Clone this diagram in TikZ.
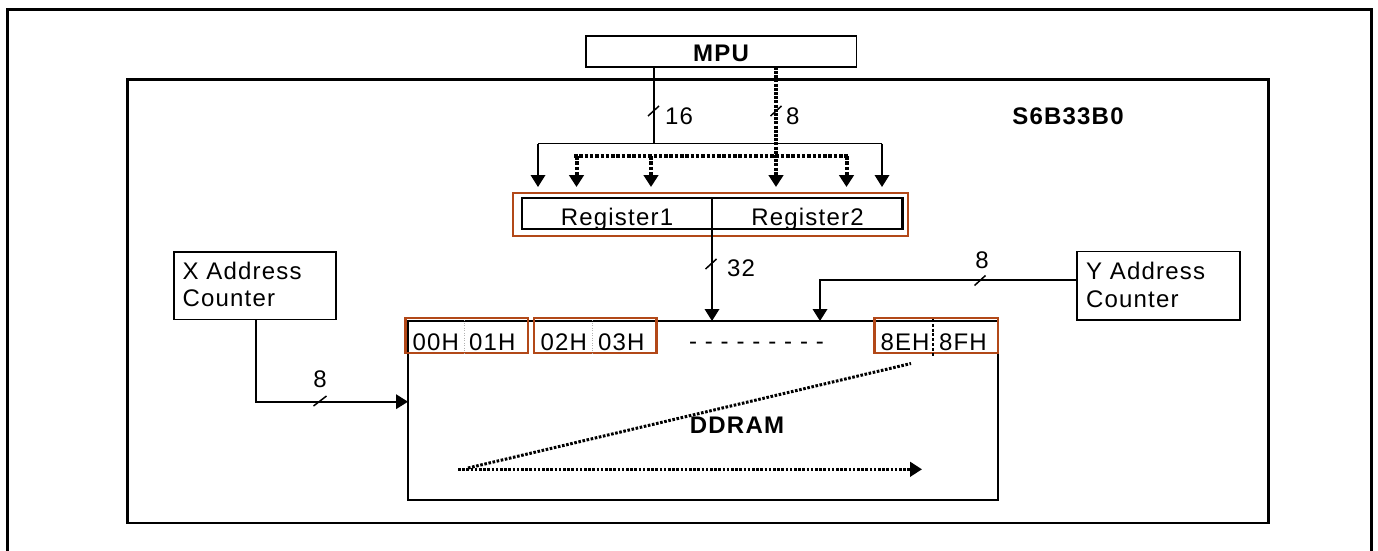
\documentclass[tikz,border=0pt]{standalone}
\usepackage{fontspec}
\setmainfont{Liberation Sans}[LetterSpace=5]
\usetikzlibrary{arrows.meta}
\definecolor{rust}{RGB}{178,72,24}
\begin{document}
\begin{tikzpicture}[x=1pt,y=-1pt,
  every node/.style={inner sep=0pt,outer sep=0pt,font=\fontsize{24}{28}\selectfont},
  box/.style={draw,line width=1.7pt},
  obox/.style={draw=rust,line width=2.2pt},
  conn/.style={line width=1.9pt},
  arr/.style={-{Triangle[length=12pt,width=14.5pt]}},
  tick/.style={line width=1.5pt},
  dotv/.style={line width=4.2pt,dash pattern=on 3pt off 1.2pt},
  doth/.style={line width=3.5pt,dash pattern=on 3.5pt off 1.8pt},
  dotd/.style={line width=3pt,dash pattern=on 2.6pt off 1.6pt},
  celldiv/.style={draw=gray!60,line width=0.7pt,dash pattern=on 1pt off 1.5pt},
  lbl/.style={anchor=base},
  lblw/.style={anchor=base west},
  bold/.style={font=\fontsize{24}{28}\selectfont\bfseries}
]
\useasboundingbox (0,0) rectangle (1378,550);
\clip (0,0) rectangle (1378,550);

% outer frame (open at the bottom)
\draw[line width=3pt] (7.5,560) -- (7.5,9.5) -- (1371.5,9.5) -- (1371.5,560);

% chip
\node[box,line width=2.2pt,minimum width=1141pt,minimum height=443.5pt] (chip) at (698,301.25) {};
\node[bold,lbl] (chiplbl) at (1068,124) {S6B33B0};

% MPU
\node[box,minimum width=270.5pt,minimum height=30.7pt] (mpu) at (721.25,51.35) {};
\node[bold,lbl] (mpulbl) at (721,61.7) {MPU};

% registers
\node[obox,minimum width=395pt,minimum height=43pt] (regfr) at (710.5,214.5) {};
\node[box,line width=2.2pt,minimum width=190pt,minimum height=31pt] (reg1) at (617,213.5) {};
\node[box,line width=2.2pt,minimum width=190.5pt,minimum height=31pt] (reg2) at (807.25,213.5) {};
\node[lbl] (reg1lbl) at (617,225.5) {Register1};
\node[lbl] (reg2lbl) at (807.5,225.5) {Register2};

% address counters
\node[box,minimum width=162pt,minimum height=67.5pt] (xac) at (255,285.75) {};
\node[lblw] (xacl1) at (182.5,279) {X Address};
\node[lblw] (xacl2) at (182.5,306.7) {Counter};
\node[box,minimum width=163pt,minimum height=68.5pt] (yac) at (1158.5,285.75) {};
\node[lblw] (yacl1) at (1086,279.5) {Y Address};
\node[lblw] (yacl2) at (1086,307) {Counter};

% DDRAM
\node[box,line width=2.2pt,minimum width=590pt,minimum height=179pt] (ddram) at (703,410.5) {};
\node[bold,lbl] (ddramlbl) at (737,433) {DDRAM};

% DDRAM cells
\node[obox,minimum width=122.5pt,minimum height=35pt] (c0) at (466.75,335.5) {};
\node[obox,minimum width=122.5pt,minimum height=35pt] (c1) at (595.25,335.5) {};
\node[obox,minimum width=123.5pt,minimum height=35pt] (c2) at (936.25,335.5) {};
\draw[celldiv] (464,320) -- (464,353);
\draw[celldiv] (592,320) -- (592,353);
\draw[line width=2.8pt,dash pattern=on 3pt off 1.8pt] (933,319) -- (933,357);
\node[lblw] (a00) at (412.5,350.5) {00H};
\node[lblw] (a01) at (469,350.5) {01H};
\node[lblw] (a02) at (540.5,350.5) {02H};
\node[lblw] (a03) at (598,350.5) {03H};
\node[lblw] (a8e) at (880.5,350.5) {8EH};
\node[lblw] (a8f) at (939,350.5) {8FH};
\node[lblw] (dashes) at (689,349) {- - - - - - - - -};

% scan arrows inside DDRAM
\coordinate (s0) at (458,469.3);
\coordinate (s1) at (922,469.3);
\coordinate (d0) at (468,468);
\coordinate (d1) at (911,363.5);
\draw[dotd,arr] (s0) -- (s1);
\draw[dotd] (d0) -- (d1);

% MPU 16-bit bus
\coordinate (b16) at (654,143.5);
\coordinate (busL) at (538,143.5);
\coordinate (busR) at (882,143.5);
\coordinate (tL) at (538,187);
\coordinate (tR) at (882,187);
\draw[conn] (mpu.south -| b16) -- (b16);
\draw[conn] (busL) -- (busR);
\draw[conn,arr] (busL) -- (tL);
\draw[conn,arr] (busR) -- (tR);
\coordinate (k16) at (653.5,111);
\draw[tick] ([shift={(-5.5,5)}]k16) -- ([shift={(5.5,-5)}]k16);
\node[lblw] (l16) at (665,124) {16};

% MPU 8-bit bus (dotted)
\coordinate (b8) at (776,187);
\coordinate (h8L) at (576.5,156);
\coordinate (h8R) at (846.5,156);
\coordinate (h8M) at (651,156);
\coordinate (t8a) at (576.5,187);
\coordinate (t8b) at (651,187);
\coordinate (t8c) at (846.5,187);
\draw[dotv,arr] (mpu.south -| b8) -- (b8);
\draw[doth] (574,156) -- (848,156);
\draw[doth,line width=4pt,arr] (h8L) -- (t8a);
\draw[doth,line width=3.2pt,arr] (h8M) -- (t8b);
\draw[doth,line width=4pt,arr] (h8R) -- (t8c);
\coordinate (k8) at (776,111);
\draw[tick] ([shift={(-5.5,5)}]k8) -- ([shift={(5.5,-5)}]k8);
\node[lblw] (l8) at (786,124) {8};

% registers -> DDRAM (32)
\coordinate (r32) at (712,229);
\draw[conn,arr] (reg1.south east) -- (ddram.north -| r32);
\coordinate (k32) at (711,264);
\draw[tick] ([shift={(-5.5,5)}]k32) -- ([shift={(5.5,-5)}]k32);
\node[lblw] (l32) at (727,276) {32};

% Y address counter -> DDRAM
\coordinate (yb) at (820,280);
\draw[conn,arr] (yac.west |- yb) -- (yb) -- (ddram.north -| yb);
\coordinate (ky) at (980,280.5);
\draw[tick] ([shift={(-5.5,5)}]ky) -- ([shift={(5.5,-5)}]ky);
\node[lbl] (ly) at (982,268) {8};

% X address counter -> DDRAM
\coordinate (xb) at (256,401.7);
\draw[conn,arr] (xac.south -| xb) -- (xb) -- (ddram.west |- xb);
\coordinate (kx) at (320,401);
\draw[tick] ([shift={(-6.5,5)}]kx) -- ([shift={(6.5,-5)}]kx);
\node[lbl] (lx) at (320,387.7) {8};
\end{tikzpicture}
\end{document}
